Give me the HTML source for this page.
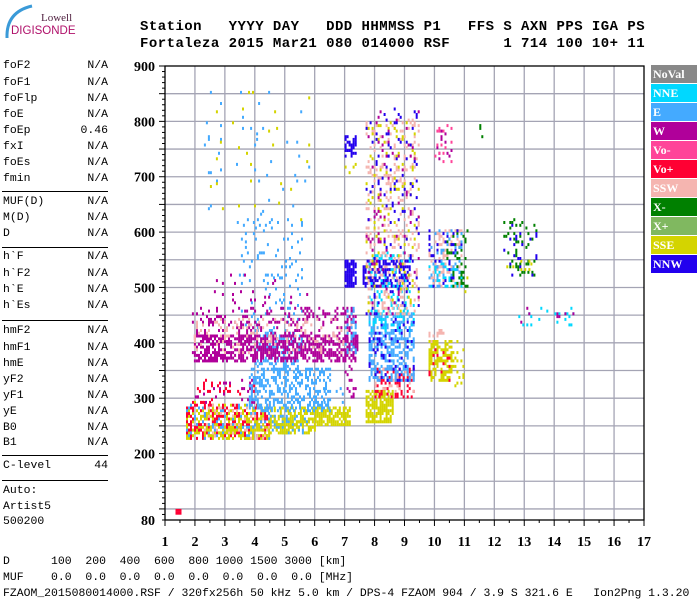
<!DOCTYPE html>
<html><head><meta charset="utf-8">
<style>
body{margin:0;background:#fff;width:700px;height:600px;overflow:hidden;position:relative;font-family:"Liberation Mono",monospace;}
.t{position:absolute;white-space:pre;}
.hd{font-family:"Liberation Mono",monospace;font-weight:bold;font-size:14px;letter-spacing:0.46px;color:#000;}
.lp{font-size:11.45px;color:#000;}
.sep{position:absolute;left:2px;width:106px;height:1px;background:#000;}
.lg{position:absolute;left:651px;width:46px;height:18px;color:#fff;font-family:"Liberation Serif",serif;font-weight:bold;font-size:12px;line-height:18px;padding-left:2px;box-sizing:border-box;}
</style></head><body>
<div>
<svg style="position:absolute;left:0;top:0" width="90" height="45"><path d="M7,38 Q6,12 32,6" stroke="#3a9ad8" stroke-width="3" fill="none"/></svg>
<div class="t" style="left:41px;top:12px;font-family:'Liberation Serif',serif;font-size:11px;color:#502040">Lowell</div>
<div class="t" style="left:11px;top:25px;font-family:'Liberation Sans',sans-serif;font-size:11.5px;color:#b0106a">DIGISONDE</div>
</div>
<div class="t hd" style="left:140px;top:19px">Station   YYYY DAY   DDD HHMMSS P1   FFS S AXN PPS IGA PS</div>
<div class="t hd" style="left:140px;top:36px">Fortaleza 2015 Mar21 080 014000 RSF      1 714 100 10+ 11</div>
<div id="left"></div>
<div id="legend"></div>
<svg id="chart" style="position:absolute;left:0;top:0" width="700" height="600"></svg>
<div class="t lp" style="left:3px;top:555px">D      100  200  400  600  800 1000 1500 3000 [km]</div>
<div class="t lp" style="left:3px;top:571px">MUF    0.0  0.0  0.0  0.0  0.0  0.0  0.0  0.0 [MHz]</div>
<div class="t lp" style="left:3px;top:587px">FZAOM_2015080014000.RSF / 320fx256h 50 kHz 5.0 km / DPS-4 FZAOM 904 / 3.9 S 321.6 E   Ion2Png 1.3.20</div>
<script>
// ---- data ----
const paramNames=["foF2","foF1","foFlp","foE","foEp","fxI","foEs","fmin","MUF(D)","M(D)","D","h`F","h`F2","h`E","h`Es","hmF2","hmF1","hmE","yF2","yF1","yE","B0","B1","C-level","Auto:","Artist5","500200"];
const paramValues=["N/A","N/A","N/A","N/A","0.46","N/A","N/A","N/A","N/A","N/A","N/A","N/A","N/A","N/A","N/A","N/A","N/A","N/A","N/A","N/A","N/A","N/A","N/A","44","","",""];
const paramY=[67,84,100,116,132,148,164,180,203,219,235,258,275,291,307,332,349,365,381,397,413,429,444,467,492,508,523];
const sepY=[191,247,320,455,480];
const legendNames=["NoVal","NNE","E","W","Vo-","Vo+","SSW","X-","X+","SSE","NNW"];
const legendColors=["#888888","#00d8ff","#44aaff","#b0009a","#ff4499","#ff0033","#f5b5b0","#008000","#80b860","#d4d400","#2200ee"];
const xTicks=[1,2,3,4,5,6,7,8,9,10,11,12,13,14,15,16,17];
const yTicks=[80,200,300,400,500,600,700,800,900];
// echo regions: freq lo/hi (MHz), height lo/hi (km), color index, echo density
const bFLo=[1.7,1.7,1.7,2.3,2.3,2.3,2.3,4.5,4.5,6.0,2.0,2.0,3.8,4.0,3.4,2.3,2.5,1.9,1.9,2.5,1.9,6.1,7.0,7.0,7.0,7.0,7.0,7.7,8.0,8.0,7.8,7.8,7.8,7.6,7.8,7.7,7.7,7.7,7.7,9.8,9.8,9.8,10.6,9.8,9.8,10.4,9.8,9.8,10.0,10.0,11.0,12.3,12.4,12.3,12.8,12.8,11.5,1.35,2.3,4.5];
const bFHi=[2.3,2.3,2.3,4.5,4.5,4.5,4.5,6.0,6.0,7.2,4.0,4.0,6.5,5.6,5.6,5.8,5.8,7.4,7.3,5.8,7.3,7.0,7.35,7.35,7.35,7.35,7.35,8.6,9.3,9.3,9.3,9.3,9.3,9.2,9.2,9.5,9.5,9.5,9.5,10.6,10.6,10.3,11.0,10.9,10.9,11.1,10.9,10.9,10.6,10.6,11.3,13.4,13.4,13.4,14.7,14.7,11.7,1.5,4.5,6.0];
const bHLo=[225,225,225,225,225,225,225,240,235,250,290,290,275,350,420,620,620,365,410,460,380,280,500,735,700,300,380,255,300,310,330,330,420,500,480,450,450,450,450,330,330,400,320,500,500,500,500,500,720,720,480,520,530,520,430,430,770,90,225,235];
const bHHi=[290,290,290,285,285,285,285,280,265,280,330,330,350,420,620,850,850,410,460,520,440,330,545,770,720,460,460,310,350,350,450,440,480,545,560,800,800,820,820,400,400,420,400,540,600,600,600,600,790,790,540,620,545,620,460,460,790,98,260,260];
const bColor=[9,5,2,9,5,2,6,9,2,9,5,3,2,2,2,2,9,3,3,3,6,2,10,10,9,3,2,9,5,6,2,10,1,10,1,6,9,3,10,9,5,6,9,1,6,7,10,2,3,4,9,7,9,10,1,3,7,5,9,9];
const bDens=[0.4,0.3,0.2,0.4,0.3,0.15,0.12,0.5,0.2,0.75,0.1,0.1,0.4,0.3,0.08,0.02,0.012,0.6,0.2,0.05,0.12,0.1,0.8,0.6,0.2,0.2,0.3,0.7,0.4,0.2,0.45,0.1,0.2,0.5,0.2,0.15,0.05,0.05,0.05,0.6,0.1,0.3,0.2,0.3,0.25,0.15,0.1,0.1,0.1,0.1,0.03,0.12,0.15,0.05,0.12,0.08,0.2,1.0,0.3,0.4];
// ---- axes ----
const X0=165,X1=644,Y0=520,Y1=66;
function xs(f){return X0+(f-1)*(X1-X0)/16;}
function ys(h){return Y0-(h-80)*(Y0-Y1)/820;}
const NS="http://www.w3.org/2000/svg";
const svg=document.getElementById('chart');
function mk(tag,attrs){const e=document.createElementNS(NS,tag);for(const k in attrs)e.setAttribute(k,attrs[k]);svg.appendChild(e);return e;}
// grid
for(let f=2;f<=16;f++){const g=mk('line',{x1:xs(f),x2:xs(f),y1:Y1,y2:Y0,stroke:'#a4a4b4','stroke-width':1.3});

}
for(let h=100;h<900;h+=50){const g=mk('line',{x1:X0,x2:X1,y1:ys(h),y2:ys(h),stroke:'#a4a4b4','stroke-width':1.3});

}
// echoes
function hash(a,b,c){let n=(a*73856093)^(b*19349663)^(c*83492791);n=(n^(n>>>13))*1274126177;n=n^(n>>>16);return ((n>>>0)%10000)/10000;}
const dots=document.createElementNS(NS,'g');


svg.appendChild(dots);
for(let b=0;b<bFLo.length;b++){
  const fStep=0.067,hStep=5;
  for(let i=0;bFLo[b]+i*fStep<=bFHi[b];i++){
    for(let j=0;bHLo[b]+j*hStep<=bHHi[b];j++){
      if(hash(b+1,i+7,j+3)<bDens[b]){
        const f=bFLo[b]+i*fStep,h=bHLo[b]+j*hStep;
        const r=document.createElementNS(NS,'rect');
        r.setAttribute('x',xs(f).toFixed(1));r.setAttribute('y',(ys(h)-2.8).toFixed(1));
        r.setAttribute('width',2);r.setAttribute('height',3);r.setAttribute('fill',legendColors[bColor[b]]);
        dots.appendChild(r);
      }
    }
  }
}
// frame
const fr=mk('rect',{x:X0,y:Y1,width:X1-X0,height:Y0-Y1,fill:'none',stroke:'#000','stroke-width':1.3});


// ticks
for(let h=80;h<=900;h+=10){const l=(h%50===0)?6:3;mk('line',{x1:X0-l,x2:X0,y1:ys(h),y2:ys(h),stroke:'#000','stroke-width':1});}
for(let f=1;f<=17;f+=0.5){const l=(f%1===0)?6:3;mk('line',{x1:xs(f),x2:xs(f),y1:Y0,y2:Y0+l,stroke:'#000','stroke-width':1});}
yTicks.forEach(v=>{const t=mk('text',{x:155,y:ys(v)+5,'text-anchor':'end','font-family':'Liberation Serif,serif','font-weight':'bold','font-size':14});t.textContent=v;

});
xTicks.forEach(v=>{const t=mk('text',{x:xs(v),y:546,'text-anchor':'middle','font-family':'Liberation Serif,serif','font-weight':'bold','font-size':14});t.textContent=v;

});
// left panel
const left=document.getElementById('left');
paramNames.forEach((n,i)=>{
  const a=document.createElement('div');a.className='t lp';a.style.left='3px';a.style.top=(paramY[i]-8)+'px';a.textContent=n;
  
  
  left.appendChild(a);
  if(paramValues[i]){const v=document.createElement('div');v.className='t lp';v.style.right=(700-108)+'px';v.style.top=(paramY[i]-8)+'px';v.textContent=paramValues[i];
  
  
  left.appendChild(v);}
});
sepY.forEach(y=>{const s=document.createElement('div');s.className='sep';s.style.top=y+'px';


left.appendChild(s);});
// legend
const lg=document.getElementById('legend');
legendNames.forEach((n,i)=>{const d=document.createElement('div');d.className='lg';d.style.top=(65+i*19)+'px';d.style.background=legendColors[i];d.textContent=n;


lg.appendChild(d);});
</script>
</body></html>
